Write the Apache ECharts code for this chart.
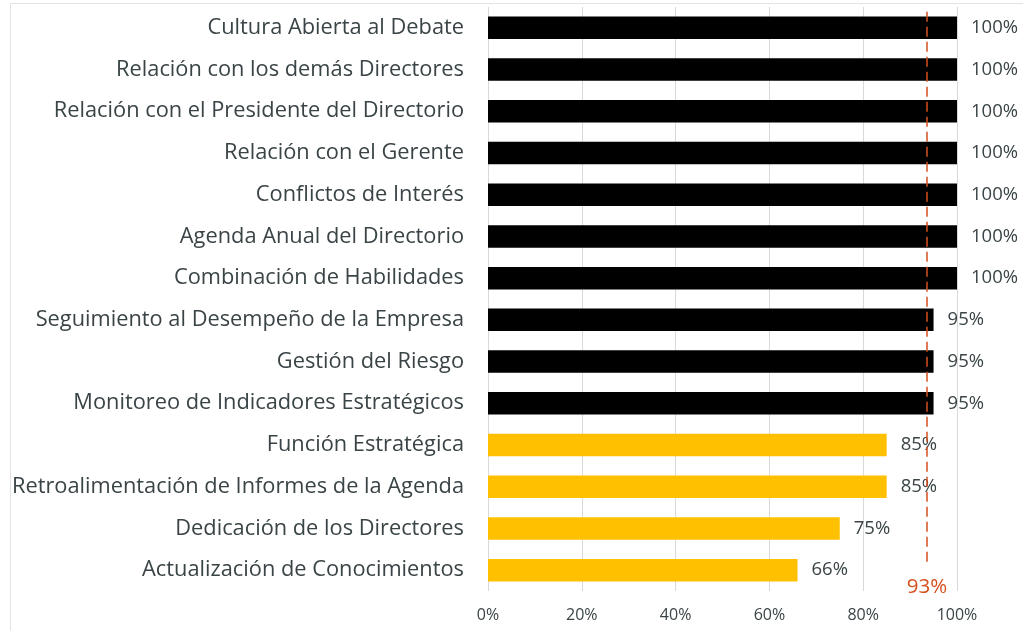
<!DOCTYPE html>
<html>
<head>
<meta charset="utf-8">
<script src="https://cdn.jsdelivr.net/npm/echarts@6/dist/echarts.min.js"></script>
<style>
  html, body { margin: 0; padding: 0; background: #fff; }
  #frame { position: absolute; left: 10px; top: 3px; width: 1030px; height: 640px;
           border-left: 1px solid #e3e3e3; border-top: 1px solid #e3e3e3; }
  #chart { position: absolute; left: 0; top: 0; width: 1023px; height: 631px; }
</style>
</head>
<body>
<div id="frame"></div>
<div id="chart"></div>
<script>
// categorías (de arriba hacia abajo)
var categories = [
    'Cultura Abierta al Debate',
    'Relación con los demás Directores',
    'Relación con el Presidente del Directorio',
    'Relación con el Gerente',
    'Conflictos de Interés',
    'Agenda Anual del Directorio',
    'Combinación de Habilidades',
    'Seguimiento al Desempeño de la Empresa',
    'Gestión del Riesgo',
    'Monitoreo de Indicadores Estratégicos',
    'Función Estratégica',
    'Retroalimentación de Informes de la Agenda',
    'Dedicación de los Directores',
    'Actualización de Conocimientos'
];
var values = [100, 100, 100, 100, 100, 100, 100, 95, 95, 95, 85, 85, 75, 66];
var promedio = 93.6;
var xTicks = [0, 20, 40, 60, 80, 100];

var textColor = '#3a4446';
var lineColor = '#D4501E';
var font = "'Open Sans', sans-serif";

var dom = document.getElementById('chart');
var myChart = echarts.init(dom, null, { renderer: 'canvas' });

var option = {
    animation: false,
    grid: {
        left: 488,
        right: 66,
        top: 7,
        bottom: 40
    },
    xAxis: {
        type: 'value',
        min: xTicks[0],
        max: xTicks[xTicks.length - 1],
        interval: 20,
        axisLine: { show: false },
        axisTick: { show: false },
        axisLabel: {
            formatter: '{value}%',
            color: textColor,
            fontFamily: font,
            fontSize: 16,
            margin: 16
        },
        splitLine: { lineStyle: { color: '#d9d9d9', width: 1 } }
    },
    yAxis: [
        {
            type: 'category',
            inverse: true,
            data: categories,
            axisLine: { show: false },
            axisTick: { show: false },
            axisLabel: {
                color: textColor,
                fontFamily: font,
                fontSize: 21.8,
                margin: 24
            }
        },
        {
            type: 'value',
            min: 0,
            max: 1,
            show: false
        }
    ],
    series: [
        {
            type: 'bar',
            barWidth: '54%',
            data: values.map(function (v) {
                return {
                    value: v,
                    itemStyle: { color: v >= 95 ? '#000000' : '#FFC000' }
                };
            }),
            label: {
                show: true,
                position: 'right',
                distance: 14,
                formatter: '{c}%',
                color: textColor,
                fontFamily: font,
                fontSize: 18.5
            }
        },
        {
            // línea del promedio
            type: 'line',
            yAxisIndex: 1,
            data: [],
            markLine: {
                silent: true,
                symbol: ['none', 'none'],
                lineStyle: { color: lineColor, type: [10, 5], width: 1.5 },
                label: {
                    show: true,
                    position: 'start',
                    distance: 15,
                    formatter: Math.floor(promedio) + '%',
                    color: lineColor,
                    fontFamily: font,
                    fontSize: 20.5
                },
                data: [[
                    { coord: [promedio, 0.05] },
                    { coord: [promedio, 1] }
                ]]
            }
        }
    ]
};

myChart.setOption(option);
</script>
</body>
</html>
